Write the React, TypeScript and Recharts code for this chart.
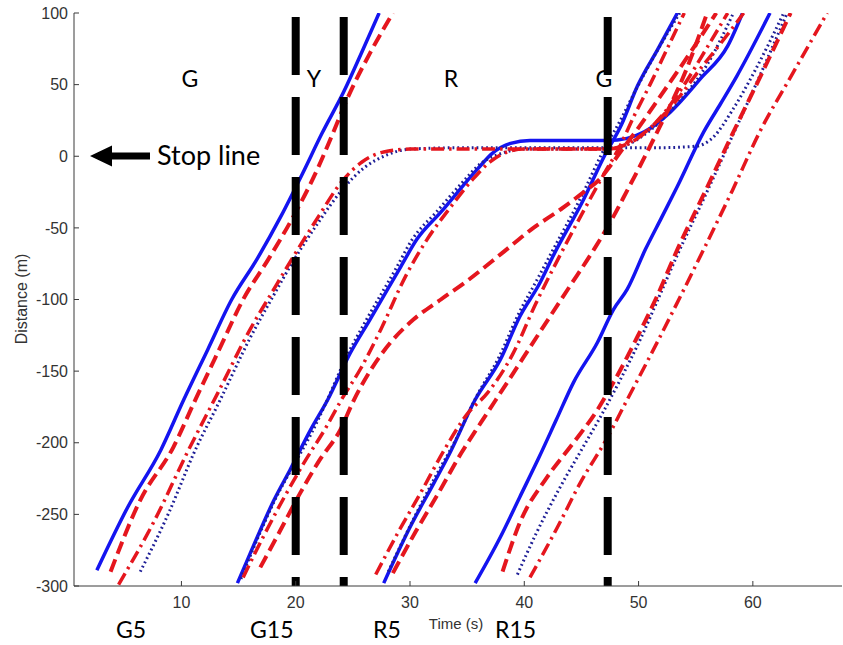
import { LineChart, Line, XAxis, YAxis, ReferenceLine } from 'recharts'

type Pt = [number, number]

// time (s), distance to stop line (m)
const g5Solid: Pt[] = [[2.6,-289],[5.3,-245],[8.2,-205],[10.2,-170],[12.3,-135],[14.4,-100],[16.6,-72],[18.7,-42],[20.6,-12],[22.3,16],[24.2,45],[25.8,73],[27.3,100]]
const g5Dash: Pt[] = [[3.8,-290],[6.4,-240],[9.3,-203],[11.1,-172],[13.3,-135],[15.4,-100],[17.6,-72],[19.8,-42],[21.9,-9],[23.2,15],[24.5,40],[26.5,72],[28.5,100]]
const g5DashDot: Pt[] = [[4.5,-299],[7.6,-255],[10.5,-207],[13.2,-165],[16,-121],[18,-94],[19.8,-70],[22,-42],[24,-18],[25.8,-4],[27.7,3],[30,5],[40,5],[47.3,5],[48.6,7],[50.2,14],[52,28],[54,50],[56,76],[57.8,100]]
const g5Dot: Pt[] = [[6.4,-290],[9,-247],[11.1,-207],[13.4,-170],[16,-127],[18,-98],[19.8,-73],[22,-46],[24,-24],[26,-8],[28,1],[30,5],[35,6],[40,6],[47.3,6],[52,6],[55,7],[56.5,13],[58.2,32],[60.2,60],[62.7,100]]

const g15Solid: Pt[] = [[14.9,-298],[16.3,-272],[18.1,-240],[19.5,-219],[21.3,-191],[22.8,-170],[24.8,-137],[26.5,-114],[29.2,-77],[30.6,-58],[32.7,-39],[35.9,-9],[37.2,2],[38.8,9],[40.5,11],[47.3,11],[49,12.5],[50.5,17],[52.8,31],[55.4,54],[57.8,77],[59.1,100]]
const g15Dash: Pt[] = [[16.9,-287],[18.6,-262],[20.4,-235],[22.1,-212],[23.9,-191],[25.1,-170],[26.5,-150],[28.3,-130],[30.3,-114],[32.7,-100],[35,-87],[38,-68],[40.8,-50],[43.2,-37],[45.2,-25],[46.6,-16],[47.6,-6],[48.6,5],[50,20],[52,43],[54.5,72],[56.8,100]]
const g15DashDot: Pt[] = [[15.4,-294],[17.2,-265],[19,-238],[20.8,-213],[22.6,-190],[24,-170],[25.7,-148],[27.5,-120],[29.6,-84],[31.5,-58],[33.5,-36],[35.5,-16],[37,-4],[38.5,3],[40,5],[47.3,5],[48.8,8],[50.6,17],[53,36],[55.5,62],[57.5,82],[59.2,100]]
const g15Dot: Pt[] = [[15.2,-295],[16.6,-268],[18.3,-238],[19.8,-216],[21.4,-193],[22.6,-173],[24.5,-139],[26.2,-114],[28.8,-78],[30.2,-58],[32.3,-39],[34.5,-19],[36.2,-5],[38,2],[40,5],[47.3,5],[49,8],[51,18],[53.5,38],[56,64],[58.3,100]]

const r5Solid: Pt[] = [[27.7,-298],[30,-259],[32.1,-228],[33.5,-207],[35.7,-170],[37.9,-142],[39.6,-112],[41.4,-88],[42.5,-70],[45.2,-30],[47,0],[48.5,22],[49.9,49],[51.7,75],[53.4,100]]
const r5Dash: Pt[] = [[28.5,-291],[30.5,-262],[32.5,-235],[34.5,-207],[36.2,-186],[38.5,-158],[41.1,-126],[43.8,-93],[46.1,-65],[47.6,-45],[49,-24],[50.5,-1],[52,23],[54,57],[56,100]]
const r5DashDot: Pt[] = [[27,-292],[29,-262],[31,-234],[33,-205],[35,-180],[36.8,-165],[39,-138],[41,-103],[43.2,-68],[45.2,-38],[47,-12],[48.3,6],[49.6,28],[51,50],[52.5,75],[54,100]]
const r5Dot: Pt[] = [[28.1,-290],[30.2,-255],[32.2,-224],[34,-198],[35.8,-168],[37.8,-140],[39.5,-110],[41.2,-85],[42.4,-67],[45,-28],[46.8,2],[48.4,25],[50,50],[51.8,76],[53.6,100]]

const r15Solid: Pt[] = [[35.7,-298],[37.9,-266],[39.6,-238],[41.3,-210],[42.8,-184],[44.3,-158],[46.4,-130],[47.8,-107],[49,-93],[50.6,-65],[52,-43],[53.4,-21],[55.7,17],[57.2,37],[58.6,56],[61.5,100]]
const r15Dash: Pt[] = [[38.1,-290],[39.6,-256],[42,-224],[44.3,-200],[46.4,-177],[47.8,-158],[49.9,-126],[51.6,-98],[53.4,-65],[55.8,-25],[58.3,17],[60.8,58],[63.3,100]]
const r15DashDot: Pt[] = [[40.5,-294],[42.9,-259],[44.9,-228],[47.3,-196],[49,-170],[51.3,-135],[53.4,-102],[55.7,-65],[58.2,-24],[60.6,17],[63.5,58],[66.5,100]]
const r15Dot: Pt[] = [[39.4,-292],[41,-264],[43,-233],[45,-205],[46.8,-180],[48.4,-156],[50.2,-127],[51.8,-98],[53.5,-67],[55.8,-28],[58.2,14],[60.6,56],[63,100]]

const xTicks = [10, 20, 30, 40, 50, 60]
const yTicks = [-300, -250, -200, -150, -100, -50, 0, 50, 100]
const signalChanges = [20, 24.2, 47.3]

type Kind = 'solid' | 'dot' | 'dashdot' | 'dash'

const styles: Record<Kind, { stroke: string; width: number; dash?: string }> = {
  solid: { stroke: '#1414f0', width: 3.5 },
  dot: { stroke: '#1e1e96', width: 3, dash: '1.8 3' },
  dashdot: { stroke: '#e5161e', width: 3.5, dash: '13 5 2.5 5' },
  dash: { stroke: '#e5161e', width: 4, dash: '13 6' },
}

const series: { id: string; pts: Pt[]; kind: Kind }[] = [
  { id: 'g5s', pts: g5Solid, kind: 'solid' },
  { id: 'g15s', pts: g15Solid, kind: 'solid' },
  { id: 'r5s', pts: r5Solid, kind: 'solid' },
  { id: 'r15s', pts: r15Solid, kind: 'solid' },
  { id: 'g5o', pts: g5Dot, kind: 'dot' },
  { id: 'g15o', pts: g15Dot, kind: 'dot' },
  { id: 'r5o', pts: r5Dot, kind: 'dot' },
  { id: 'r15o', pts: r15Dot, kind: 'dot' },
  { id: 'g5dd', pts: g5DashDot, kind: 'dashdot' },
  { id: 'g15dd', pts: g15DashDot, kind: 'dashdot' },
  { id: 'r5dd', pts: r5DashDot, kind: 'dashdot' },
  { id: 'r15dd', pts: r15DashDot, kind: 'dashdot' },
  { id: 'g5d', pts: g5Dash, kind: 'dash' },
  { id: 'g15d', pts: g15Dash, kind: 'dash' },
  { id: 'r5d', pts: r5Dash, kind: 'dash' },
  { id: 'r15d', pts: r15Dash, kind: 'dash' },
]

const axisColor = '#3a3a3a'
const tickFont = { fontSize: 16, fill: '#333', fontFamily: 'Liberation Sans, Arial, sans-serif' }
const textFont = 'Lato, "Open Sans", sans-serif'

export default function App() {
  return (
    <div style={{ position: 'absolute', left: 0, top: 0, width: 843, height: 645, background: '#fff' }}>
      <LineChart width={843} height={645} margin={{ top: 13, right: 1, left: 0, bottom: 29 }}>
        <XAxis
          xAxisId={0}
          dataKey="t"
          type="number"
          domain={[0.6, 67.8]}
          allowDataOverflow
          ticks={xTicks}
          height={30}
          stroke={axisColor}
          tickSize={-5}
          tickMargin={16}
          tick={tickFont}
        />
        <XAxis
          xAxisId="top"
          orientation="top"
          type="number"
          domain={[0.6, 67.8]}
          allowDataOverflow
          ticks={xTicks}
          height={0}
          stroke={axisColor}
          tickSize={-5}
          tick={false}
        />
        <YAxis
          yAxisId={0}
          type="number"
          domain={[-300, 100]}
          allowDataOverflow
          ticks={yTicks}
          width={74}
          stroke={axisColor}
          tickSize={-5}
          tickMargin={11}
          tick={tickFont}
        />
        <YAxis
          yAxisId="right"
          orientation="right"
          type="number"
          domain={[-300, 100]}
          ticks={yTicks}
          width={0}
          stroke={axisColor}
          tickSize={-5}
          tick={false}
        />
        {series.map((s) => {
          const st = styles[s.kind]
          return (
            <Line
              key={s.id}
              data={s.pts.map(([t, d]) => ({ t, d }))}
              dataKey="d"
              type="monotone"
              stroke={st.stroke}
              strokeWidth={st.width}
              strokeDasharray={st.dash}
              dot={false}
              activeDot={false}
              isAnimationActive={false}
            />
          )
        })}
        {signalChanges.map((x) => (
          <ReferenceLine
            key={x}
            segment={[{ x, y: 100 }, { x, y: -300 }]}
            stroke="#000"
            strokeWidth={8}
            strokeDasharray="58 22"
            strokeDashoffset={76}
          />
        ))}
      </LineChart>
      <svg width={843} height={645} style={{ position: 'absolute', left: 0, top: 0, pointerEvents: 'none' }}>
        <g fontFamily={textFont} fill="#000">
          <text x={190} y={87} fontSize={23} textAnchor="middle">G</text>
          <text x={314} y={87} fontSize={23} textAnchor="middle">Y</text>
          <text x={451} y={87} fontSize={23} textAnchor="middle">R</text>
          <text x={604} y={87} fontSize={23} textAnchor="middle">G</text>
          <path d="M90,156 L112,145.5 L112,152.5 L150,152.5 L150,159.5 L112,159.5 L112,166.5 Z" />
          <text x={157} y={165} fontSize={27}>Stop line</text>
          <text x={116} y={638} fontSize={23}>G5</text>
          <text x={250} y={638} fontSize={23}>G15</text>
          <text x={373} y={638} fontSize={23}>R5</text>
          <text x={495} y={638} fontSize={23}>R15</text>
        </g>
        <g fontFamily="Liberation Sans, Arial, sans-serif" fill="#333">
          <text x={456} y={629} fontSize={15} textAnchor="middle">Time (s)</text>
          <text transform="translate(27,299) rotate(-90)" fontSize={16} textAnchor="middle">Distance (m)</text>
        </g>
      </svg>
    </div>
  )
}
